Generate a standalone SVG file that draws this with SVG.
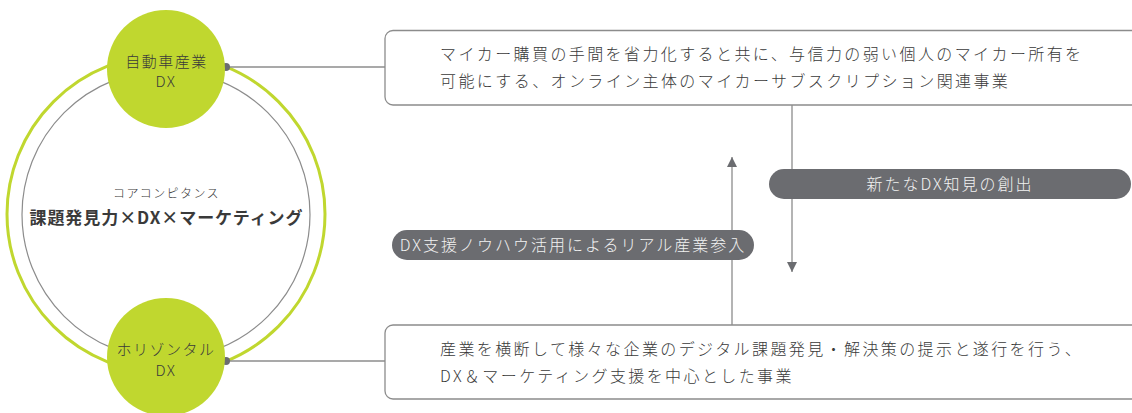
<svg xmlns="http://www.w3.org/2000/svg" width="1132" height="413" viewBox="0 0 1132 413">
<defs>
<style>
text{font-family:"Noto Sans CJK JP","Noto Sans",sans-serif;}
.dark{fill:#3a3a3a;}
.box{fill:#ffffff;stroke:#8c8c8c;stroke-width:1.3;}
.pill{fill:#6b6c70;}
.pilltxt{fill:#f2f2f2;font-size:16px;letter-spacing:2px;font-weight:300;}
.boxtxt{fill:#3a3a3a;font-size:16px;letter-spacing:2.4px;font-weight:300;}
.line{stroke:#8c8c8c;stroke-width:1.3;fill:none;}
.node{fill:#c0d72f;}
.nodetxt{fill:#3a3a3a;font-size:15px;letter-spacing:1.5px;font-weight:300;}
</style>
<marker id="arr" viewBox="0 0 10 10" refX="10" refY="5" markerWidth="10" markerHeight="10" markerUnits="userSpaceOnUse" orient="auto">
<path d="M0,0 L10,5 L0,10 Z" fill="#6b6c70"/>
</marker>
</defs>
<rect width="1132" height="413" fill="#ffffff"/>

<g id="core">
<circle cx="166" cy="214" r="159" fill="none" stroke="#c0d72f" stroke-width="3"/>
<circle cx="166" cy="214.5" r="144" fill="#ffffff" stroke="#8c8c8c" stroke-width="1.2"/>
<text x="166.5" y="198" text-anchor="middle" class="dark" font-size="12" letter-spacing="1.4" font-weight="300">コアコンピタンス</text>
<text x="166" y="224" text-anchor="middle" class="dark" font-size="17" font-weight="bold" textLength="273">課題発見力×DX×マーケティング</text>
</g>

<g id="connectors">
<line class="line" x1="226" y1="67" x2="385" y2="67"/>
<line class="line" x1="226" y1="361" x2="385" y2="361"/>
<line class="line" x1="792" y1="105" x2="792" y2="272" marker-end="url(#arr)"/>
<line class="line" x1="732" y1="325" x2="732" y2="157" marker-end="url(#arr)"/>
<circle cx="226" cy="67" r="4" fill="#6b6c70"/>
<circle cx="226" cy="361" r="4" fill="#6b6c70"/>
</g>

<g id="node-auto">
<circle class="node" cx="166" cy="69" r="59"/>
<text x="166.5" y="66.5" text-anchor="middle" class="nodetxt">自動車産業</text>
<text x="166" y="86.5" text-anchor="middle" class="nodetxt" letter-spacing="0">DX</text>
</g>

<g id="node-horizontal">
<circle class="node" cx="166" cy="357" r="59"/>
<text x="166" y="354.5" text-anchor="middle" class="nodetxt" letter-spacing="2">ホリゾンタル</text>
<text x="166" y="375.5" text-anchor="middle" class="nodetxt" letter-spacing="0">DX</text>
</g>

<g id="box-top">
<rect class="box" x="385" y="30.5" width="760" height="74.5" rx="8"/>
<text x="440" y="60" class="boxtxt">マイカー購買の手間を省力化すると共に、与信力の弱い個人のマイカー所有を</text>
<text x="440" y="87" class="boxtxt">可能にする、オンライン主体のマイカーサブスクリプション関連事業</text>
</g>

<g id="box-bottom">
<rect class="box" x="385" y="325" width="760" height="74" rx="8"/>
<text x="440" y="354.5" class="boxtxt">産業を横断して様々な企業のデジタル課題発見・解決策の提示と遂行を行う、</text>
<text x="440" y="381.5" class="boxtxt">DX＆マーケティング支援を中心とした事業</text>
</g>

<g id="pill-new-knowledge">
<rect class="pill" x="769" y="169" width="362" height="30" rx="15"/>
<text x="950" y="190" text-anchor="middle" class="pilltxt">新たなDX知見の創出</text>
</g>

<g id="pill-real-industry">
<rect class="pill" x="392" y="230" width="362" height="30" rx="15"/>
<text x="573" y="251" text-anchor="middle" class="pilltxt">DX支援ノウハウ活用によるリアル産業参入</text>
</g>
</svg>
